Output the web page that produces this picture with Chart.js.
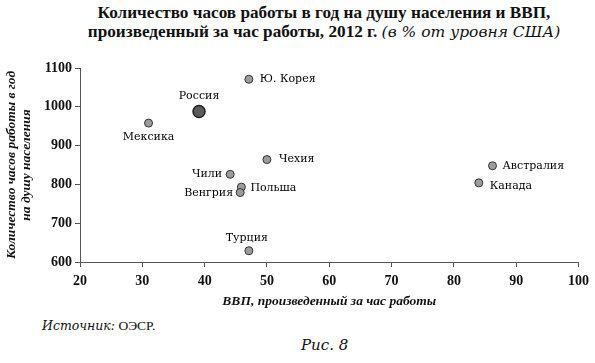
<!DOCTYPE html>
<html lang="ru">
<head>
<meta charset="utf-8">
<script src="https://cdn.jsdelivr.net/npm/chart.js@4/dist/chart.umd.min.js"></script>
<style>
  body { margin: 0; width: 595px; height: 363px; background: #fff; position: relative; overflow: hidden; font-family: "Liberation Serif", serif; color: #111; }
  .title-line { position: absolute; left: 0; width: 648px; text-align: center; white-space: nowrap; font-family: "Liberation Serif", serif; font-weight: bold; font-size: 17.2px; line-height: 20px; }
  .title-line i { font-family: "DejaVu Serif", serif; font-weight: normal; font-size: 15.5px; }
  #t1 { top: 3px; }
  #t2 { top: 22px; }
  #chart-box { position: absolute; left: 0; top: 45px; width: 595px; height: 270px; }
  #source { position: absolute; left: 42px; top: 318px; font-size: 13.5px; }
  #source i { font-family: "DejaVu Serif", serif; font-size: 12.5px; }
  #fig { position: absolute; left: 301px; top: 336px; font-family: "DejaVu Serif", serif; font-style: italic; font-size: 15px; }
</style>
</head>
<body>
<div class="title-line" id="t1">Количество часов работы в год на душу населения и ВВП,</div>
<div class="title-line" id="t2">произведенный за час работы, 2012 г. <i>(в % от уровня США)</i></div>
<div id="chart-box"><canvas id="scatter"></canvas></div>
<div id="source"><i>Источник:</i> ОЭСР.</div>
<div id="fig">Рис. 8</div>
<script>
const countries = ['Ю. Корея', 'Россия', 'Мексика', 'Чехия', 'Чили', 'Польша', 'Венгрия', 'Турция', 'Австралия', 'Канада'];
const gdpPerHour = [47.1, 39.1, 31.0, 50.0, 44.1, 45.9, 45.7, 47.1, 86.2, 84.0];
const hoursPerCapita = [1071, 988, 958, 864, 826, 793, 779, 629, 848, 804];
const xRange = [20, 100, 10];
const yRange = [600, 1100, 100];
const xTitle = 'ВВП, произведенный за час работы';
const yTitle = ['Количество часов работы в год', 'на душу населения'];

// where each name sits relative to its dot
const labelPlace = {
    'Ю. Корея': { dx: 11, dy: 0, align: 'left' },
    'Россия': { dx: 0, dy: -15, align: 'center' },
    'Мексика': { dx: 0, dy: 14, align: 'center' },
    'Чехия': { dx: 12, dy: 0, align: 'left' },
    'Чили': { dx: -8, dy: 0, align: 'right' },
    'Польша': { dx: 9, dy: 1, align: 'left' },
    'Венгрия': { dx: -7, dy: 1, align: 'right' },
    'Турция': { dx: -2, dy: -13, align: 'center' },
    'Австралия': { dx: 10, dy: 0, align: 'left' },
    'Канада': { dx: 11, dy: 3, align: 'left' }
};

const isRussia = (ctx) => countries[ctx.dataIndex] === 'Россия';

const pointLabels = {
    id: 'pointLabels',
    afterDatasetsDraw(chart) {
        const ctx = chart.ctx;
        const meta = chart.getDatasetMeta(0);
        ctx.save();
        ctx.font = '11px "DejaVu Serif", serif';
        ctx.fillStyle = '#000';
        ctx.textBaseline = 'middle';
        meta.data.forEach((pt, i) => {
            const p = labelPlace[countries[i]];
            ctx.textAlign = p.align;
            ctx.fillText(countries[i], pt.x + p.dx, pt.y + p.dy);
        });
        ctx.restore();
    }
};

const tickFont = { family: '"Liberation Serif", serif', size: 14, weight: 'bold' };
const axisTitleFont = { family: '"Liberation Serif", serif', size: 13.5, weight: 'bold', style: 'italic' };

new Chart(document.getElementById('scatter'), {
    type: 'scatter',
    data: {
        datasets: [{
            data: gdpPerHour.map((x, i) => ({ x: x, y: hoursPerCapita[i] })),
            backgroundColor: (c) => isRussia(c) ? '#5a5a5a' : '#9c9c9c',
            borderColor: (c) => isRussia(c) ? '#222' : '#333',
            borderWidth: (c) => isRussia(c) ? 1.5 : 1,
            pointRadius: (c) => isRussia(c) ? 6 : 4,
            pointHoverRadius: (c) => isRussia(c) ? 6 : 4
        }]
    },
    options: {
        responsive: true,
        maintainAspectRatio: false,
        animation: false,
        layout: { padding: { top: 23, right: 14, left: 0, bottom: 0 } },
        plugins: { legend: { display: false }, tooltip: { enabled: false } },
        scales: {
            x: {
                min: xRange[0], max: xRange[1],
                ticks: { stepSize: xRange[2], color: '#111', font: tickFont, padding: 6, callback: (v) => String(v) },
                grid: { drawOnChartArea: false, tickLength: 5, color: '#555' },
                border: { color: '#555', width: 1 },
                title: { display: true, text: xTitle, color: '#111', font: axisTitleFont, padding: { top: 4, bottom: 5 } },
                afterFit: (s) => { s.height = 53; }
            },
            y: {
                min: yRange[0], max: yRange[1],
                ticks: { stepSize: yRange[2], color: '#111', font: tickFont, padding: 3, callback: (v) => String(v) },
                grid: { drawOnChartArea: false, tickLength: 5, color: '#555' },
                border: { color: '#555', width: 1 },
                title: { display: true, text: yTitle, color: '#111', font: { ...axisTitleFont, lineHeight: 1.1 }, padding: { top: 4.5, bottom: 0 } },
                afterFit: (s) => { s.width = 80; }
            }
        }
    },
    plugins: [pointLabels]
});
</script>
</body>
</html>
